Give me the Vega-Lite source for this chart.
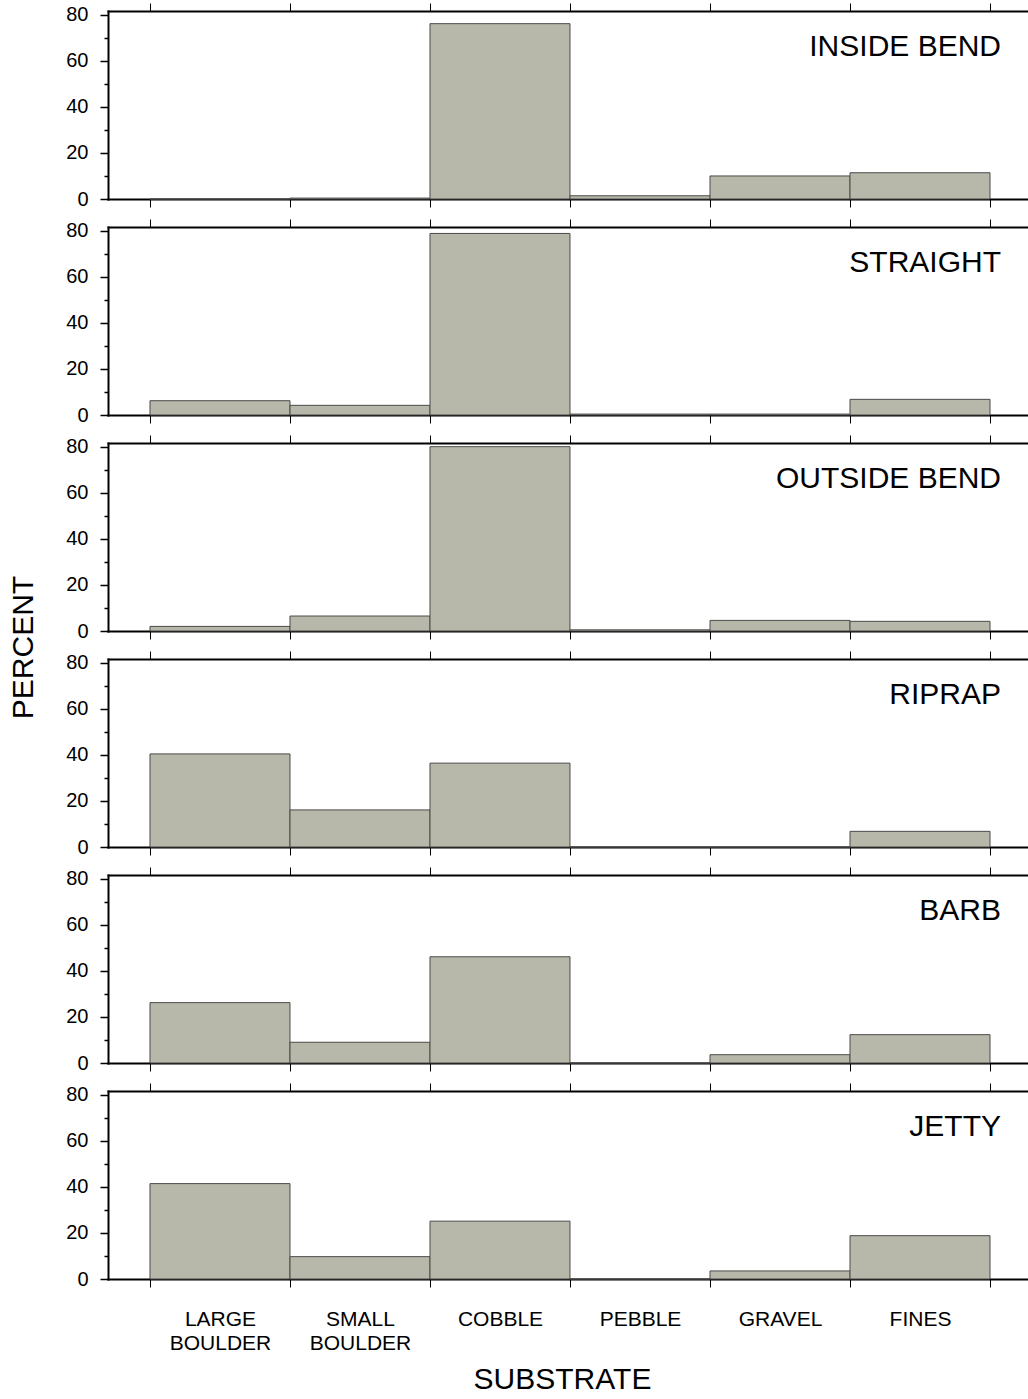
{
  "$schema": "https://vega.github.io/schema/vega-lite/v6.json",
  "padding": {"left": 8, "top": 2, "right": 0, "bottom": 5},
  "background": "white",
  "config": {
    "view": {"stroke": null},
    "axis": {"domainColor": "black", "tickColor": "black", "labelColor": "black", "titleColor": "black", "labelFont": "Liberation Sans", "titleFont": "Liberation Sans", "titleFontWeight": "normal", "grid": false, "domainCap": "square"}
  },
  "data": {"values": [
    {"site": "INSIDE BEND", "substrate": "LARGE BOULDER", "percent": 0},
    {"site": "INSIDE BEND", "substrate": "SMALL BOULDER", "percent": 0.4},
    {"site": "INSIDE BEND", "substrate": "COBBLE", "percent": 76.1},
    {"site": "INSIDE BEND", "substrate": "PEBBLE", "percent": 1.4},
    {"site": "INSIDE BEND", "substrate": "GRAVEL", "percent": 10.0},
    {"site": "INSIDE BEND", "substrate": "FINES", "percent": 11.4},
    {"site": "STRAIGHT", "substrate": "LARGE BOULDER", "percent": 6.2},
    {"site": "STRAIGHT", "substrate": "SMALL BOULDER", "percent": 4.2},
    {"site": "STRAIGHT", "substrate": "COBBLE", "percent": 78.8},
    {"site": "STRAIGHT", "substrate": "PEBBLE", "percent": 0.4},
    {"site": "STRAIGHT", "substrate": "GRAVEL", "percent": 0.4},
    {"site": "STRAIGHT", "substrate": "FINES", "percent": 6.8},
    {"site": "OUTSIDE BEND", "substrate": "LARGE BOULDER", "percent": 2.0},
    {"site": "OUTSIDE BEND", "substrate": "SMALL BOULDER", "percent": 6.5},
    {"site": "OUTSIDE BEND", "substrate": "COBBLE", "percent": 80.0},
    {"site": "OUTSIDE BEND", "substrate": "PEBBLE", "percent": 0.5},
    {"site": "OUTSIDE BEND", "substrate": "GRAVEL", "percent": 4.6},
    {"site": "OUTSIDE BEND", "substrate": "FINES", "percent": 4.2},
    {"site": "RIPRAP", "substrate": "LARGE BOULDER", "percent": 40.4},
    {"site": "RIPRAP", "substrate": "SMALL BOULDER", "percent": 16.1},
    {"site": "RIPRAP", "substrate": "COBBLE", "percent": 36.4},
    {"site": "RIPRAP", "substrate": "PEBBLE", "percent": 0},
    {"site": "RIPRAP", "substrate": "GRAVEL", "percent": 0},
    {"site": "RIPRAP", "substrate": "FINES", "percent": 6.8},
    {"site": "BARB", "substrate": "LARGE BOULDER", "percent": 26.2},
    {"site": "BARB", "substrate": "SMALL BOULDER", "percent": 9.0},
    {"site": "BARB", "substrate": "COBBLE", "percent": 46.1},
    {"site": "BARB", "substrate": "PEBBLE", "percent": 0},
    {"site": "BARB", "substrate": "GRAVEL", "percent": 3.6},
    {"site": "BARB", "substrate": "FINES", "percent": 12.3},
    {"site": "JETTY", "substrate": "LARGE BOULDER", "percent": 41.4},
    {"site": "JETTY", "substrate": "SMALL BOULDER", "percent": 9.7},
    {"site": "JETTY", "substrate": "COBBLE", "percent": 25.1},
    {"site": "JETTY", "substrate": "PEBBLE", "percent": 0},
    {"site": "JETTY", "substrate": "GRAVEL", "percent": 3.5},
    {"site": "JETTY", "substrate": "FINES", "percent": 18.8}
  ]},
  "spacing": 28,
  "bounds": "flush",
  "vconcat": [
    {
      "transform": [{"filter": "datum.site == 'INSIDE BEND'"}],
      "width": 920, "height": 188,
      "layer": [
        {"mark": {"type": "bar", "fill": "#b8b8aa", "stroke": "#4a4a4a", "strokeWidth": 1},
         "encoding": {
           "x": {"field": "substrate", "type": "nominal", "sort": ["LARGE BOULDER", "SMALL BOULDER", "COBBLE", "PEBBLE", "GRAVEL", "FINES"], "scale": {"domain": ["LARGE BOULDER", "SMALL BOULDER", "COBBLE", "PEBBLE", "GRAVEL", "FINES"], "paddingInner": 0, "paddingOuter": 0.2857, "align": 0.525}, "axis": {"orient": "bottom", "tickBand": "extent", "labels": false, "tickSize": 8, "tickWidth": 1, "domainWidth": 2, "title": null}},
           "y": {"field": "percent", "type": "quantitative", "scale": {"domain": [0, 81.6], "nice": false}, "axis": {"values": [0, 20, 40, 60, 80], "tickSize": 8, "tickWidth": 1.5, "domainWidth": 2, "labelFontSize": 20, "labelPadding": 12, "title": null}}
         }},
        {"transform": [{"filter": "datum.substrate == 'FINES'"}],
         "mark": {"type": "text", "align": "right", "baseline": "middle", "dx": 11, "fontSize": 30, "font": "Liberation Sans", "color": "black"},
         "encoding": {
           "x": {"field": "substrate", "type": "nominal", "bandPosition": 1, "axis": {"orient": "top", "tickBand": "extent", "labels": false, "tickSize": 8, "tickWidth": 1, "domainWidth": 2, "title": null}},
           "y": {"datum": 66, "type": "quantitative", "axis": {"orient": "left", "values": [10, 30, 50, 70], "tickSize": 4, "tickWidth": 1.5, "labels": false, "domain": false, "title": null}},
           "text": {"field": "site"}
         }}
      ],
      "resolve": {"axis": {"x": "independent", "y": "independent"}}
    },
    {
      "transform": [{"filter": "datum.site == 'STRAIGHT'"}],
      "width": 920, "height": 188,
      "layer": [
        {"mark": {"type": "bar", "fill": "#b8b8aa", "stroke": "#4a4a4a", "strokeWidth": 1},
         "encoding": {
           "x": {"field": "substrate", "type": "nominal", "sort": ["LARGE BOULDER", "SMALL BOULDER", "COBBLE", "PEBBLE", "GRAVEL", "FINES"], "scale": {"domain": ["LARGE BOULDER", "SMALL BOULDER", "COBBLE", "PEBBLE", "GRAVEL", "FINES"], "paddingInner": 0, "paddingOuter": 0.2857, "align": 0.525}, "axis": {"orient": "bottom", "tickBand": "extent", "labels": false, "tickSize": 8, "tickWidth": 1, "domainWidth": 2, "title": null}},
           "y": {"field": "percent", "type": "quantitative", "scale": {"domain": [0, 81.6], "nice": false}, "axis": {"values": [0, 20, 40, 60, 80], "tickSize": 8, "tickWidth": 1.5, "domainWidth": 2, "labelFontSize": 20, "labelPadding": 12, "title": null}}
         }},
        {"transform": [{"filter": "datum.substrate == 'FINES'"}],
         "mark": {"type": "text", "align": "right", "baseline": "middle", "dx": 11, "fontSize": 30, "font": "Liberation Sans", "color": "black"},
         "encoding": {
           "x": {"field": "substrate", "type": "nominal", "bandPosition": 1, "axis": {"orient": "top", "tickBand": "extent", "labels": false, "tickSize": 8, "tickWidth": 1, "domainWidth": 2, "title": null}},
           "y": {"datum": 66, "type": "quantitative", "axis": {"orient": "left", "values": [10, 30, 50, 70], "tickSize": 4, "tickWidth": 1.5, "labels": false, "domain": false, "title": null}},
           "text": {"field": "site"}
         }}
      ],
      "resolve": {"axis": {"x": "independent", "y": "independent"}}
    },
    {
      "transform": [{"filter": "datum.site == 'OUTSIDE BEND'"}],
      "width": 920, "height": 188,
      "layer": [
        {"mark": {"type": "bar", "fill": "#b8b8aa", "stroke": "#4a4a4a", "strokeWidth": 1},
         "encoding": {
           "x": {"field": "substrate", "type": "nominal", "sort": ["LARGE BOULDER", "SMALL BOULDER", "COBBLE", "PEBBLE", "GRAVEL", "FINES"], "scale": {"domain": ["LARGE BOULDER", "SMALL BOULDER", "COBBLE", "PEBBLE", "GRAVEL", "FINES"], "paddingInner": 0, "paddingOuter": 0.2857, "align": 0.525}, "axis": {"orient": "bottom", "tickBand": "extent", "labels": false, "tickSize": 8, "tickWidth": 1, "domainWidth": 2, "title": null}},
           "y": {"field": "percent", "type": "quantitative", "scale": {"domain": [0, 81.6], "nice": false}, "axis": {"values": [0, 20, 40, 60, 80], "tickSize": 8, "tickWidth": 1.5, "domainWidth": 2, "labelFontSize": 20, "labelPadding": 12, "title": "PERCENT", "titleFontSize": 30, "titlePadding": 27, "titleY": 204}}
         }},
        {"transform": [{"filter": "datum.substrate == 'FINES'"}],
         "mark": {"type": "text", "align": "right", "baseline": "middle", "dx": 11, "fontSize": 30, "font": "Liberation Sans", "color": "black"},
         "encoding": {
           "x": {"field": "substrate", "type": "nominal", "bandPosition": 1, "axis": {"orient": "top", "tickBand": "extent", "labels": false, "tickSize": 8, "tickWidth": 1, "domainWidth": 2, "title": null}},
           "y": {"datum": 66, "type": "quantitative", "axis": {"orient": "left", "values": [10, 30, 50, 70], "tickSize": 4, "tickWidth": 1.5, "labels": false, "domain": false, "title": null}},
           "text": {"field": "site"}
         }}
      ],
      "resolve": {"axis": {"x": "independent", "y": "independent"}}
    },
    {
      "transform": [{"filter": "datum.site == 'RIPRAP'"}],
      "width": 920, "height": 188,
      "layer": [
        {"mark": {"type": "bar", "fill": "#b8b8aa", "stroke": "#4a4a4a", "strokeWidth": 1},
         "encoding": {
           "x": {"field": "substrate", "type": "nominal", "sort": ["LARGE BOULDER", "SMALL BOULDER", "COBBLE", "PEBBLE", "GRAVEL", "FINES"], "scale": {"domain": ["LARGE BOULDER", "SMALL BOULDER", "COBBLE", "PEBBLE", "GRAVEL", "FINES"], "paddingInner": 0, "paddingOuter": 0.2857, "align": 0.525}, "axis": {"orient": "bottom", "tickBand": "extent", "labels": false, "tickSize": 8, "tickWidth": 1, "domainWidth": 2, "title": null}},
           "y": {"field": "percent", "type": "quantitative", "scale": {"domain": [0, 81.6], "nice": false}, "axis": {"values": [0, 20, 40, 60, 80], "tickSize": 8, "tickWidth": 1.5, "domainWidth": 2, "labelFontSize": 20, "labelPadding": 12, "title": null}}
         }},
        {"transform": [{"filter": "datum.substrate == 'FINES'"}],
         "mark": {"type": "text", "align": "right", "baseline": "middle", "dx": 11, "fontSize": 30, "font": "Liberation Sans", "color": "black"},
         "encoding": {
           "x": {"field": "substrate", "type": "nominal", "bandPosition": 1, "axis": {"orient": "top", "tickBand": "extent", "labels": false, "tickSize": 8, "tickWidth": 1, "domainWidth": 2, "title": null}},
           "y": {"datum": 66, "type": "quantitative", "axis": {"orient": "left", "values": [10, 30, 50, 70], "tickSize": 4, "tickWidth": 1.5, "labels": false, "domain": false, "title": null}},
           "text": {"field": "site"}
         }}
      ],
      "resolve": {"axis": {"x": "independent", "y": "independent"}}
    },
    {
      "transform": [{"filter": "datum.site == 'BARB'"}],
      "width": 920, "height": 188,
      "layer": [
        {"mark": {"type": "bar", "fill": "#b8b8aa", "stroke": "#4a4a4a", "strokeWidth": 1},
         "encoding": {
           "x": {"field": "substrate", "type": "nominal", "sort": ["LARGE BOULDER", "SMALL BOULDER", "COBBLE", "PEBBLE", "GRAVEL", "FINES"], "scale": {"domain": ["LARGE BOULDER", "SMALL BOULDER", "COBBLE", "PEBBLE", "GRAVEL", "FINES"], "paddingInner": 0, "paddingOuter": 0.2857, "align": 0.525}, "axis": {"orient": "bottom", "tickBand": "extent", "labels": false, "tickSize": 8, "tickWidth": 1, "domainWidth": 2, "title": null}},
           "y": {"field": "percent", "type": "quantitative", "scale": {"domain": [0, 81.6], "nice": false}, "axis": {"values": [0, 20, 40, 60, 80], "tickSize": 8, "tickWidth": 1.5, "domainWidth": 2, "labelFontSize": 20, "labelPadding": 12, "title": null}}
         }},
        {"transform": [{"filter": "datum.substrate == 'FINES'"}],
         "mark": {"type": "text", "align": "right", "baseline": "middle", "dx": 11, "fontSize": 30, "font": "Liberation Sans", "color": "black"},
         "encoding": {
           "x": {"field": "substrate", "type": "nominal", "bandPosition": 1, "axis": {"orient": "top", "tickBand": "extent", "labels": false, "tickSize": 8, "tickWidth": 1, "domainWidth": 2, "title": null}},
           "y": {"datum": 66, "type": "quantitative", "axis": {"orient": "left", "values": [10, 30, 50, 70], "tickSize": 4, "tickWidth": 1.5, "labels": false, "domain": false, "title": null}},
           "text": {"field": "site"}
         }}
      ],
      "resolve": {"axis": {"x": "independent", "y": "independent"}}
    },
    {
      "transform": [{"filter": "datum.site == 'JETTY'"}],
      "width": 920, "height": 188,
      "layer": [
        {"mark": {"type": "bar", "fill": "#b8b8aa", "stroke": "#4a4a4a", "strokeWidth": 1},
         "encoding": {
           "x": {"field": "substrate", "type": "nominal", "sort": ["LARGE BOULDER", "SMALL BOULDER", "COBBLE", "PEBBLE", "GRAVEL", "FINES"], "scale": {"domain": ["LARGE BOULDER", "SMALL BOULDER", "COBBLE", "PEBBLE", "GRAVEL", "FINES"], "paddingInner": 0, "paddingOuter": 0.2857, "align": 0.525}, "axis": {"orient": "bottom", "tickBand": "extent", "labels": true, "labelAngle": 0, "labelExpr": "split(datum.label, ' ')", "labelFontSize": 21, "labelLineHeight": 24, "labelPadding": 21, "tickSize": 8, "tickWidth": 1, "domainWidth": 2, "title": "SUBSTRATE", "titleFontSize": 30, "titlePadding": 11, "titleX": 454}},
           "y": {"field": "percent", "type": "quantitative", "scale": {"domain": [0, 81.6], "nice": false}, "axis": {"values": [0, 20, 40, 60, 80], "tickSize": 8, "tickWidth": 1.5, "domainWidth": 2, "labelFontSize": 20, "labelPadding": 12, "title": null}}
         }},
        {"transform": [{"filter": "datum.substrate == 'FINES'"}],
         "mark": {"type": "text", "align": "right", "baseline": "middle", "dx": 11, "fontSize": 30, "font": "Liberation Sans", "color": "black"},
         "encoding": {
           "x": {"field": "substrate", "type": "nominal", "bandPosition": 1, "axis": {"orient": "top", "tickBand": "extent", "labels": false, "tickSize": 8, "tickWidth": 1, "domainWidth": 2, "title": null}},
           "y": {"datum": 66, "type": "quantitative", "axis": {"orient": "left", "values": [10, 30, 50, 70], "tickSize": 4, "tickWidth": 1.5, "labels": false, "domain": false, "title": null}},
           "text": {"field": "site"}
         }}
      ],
      "resolve": {"axis": {"x": "independent", "y": "independent"}}
    }
  ]
}
